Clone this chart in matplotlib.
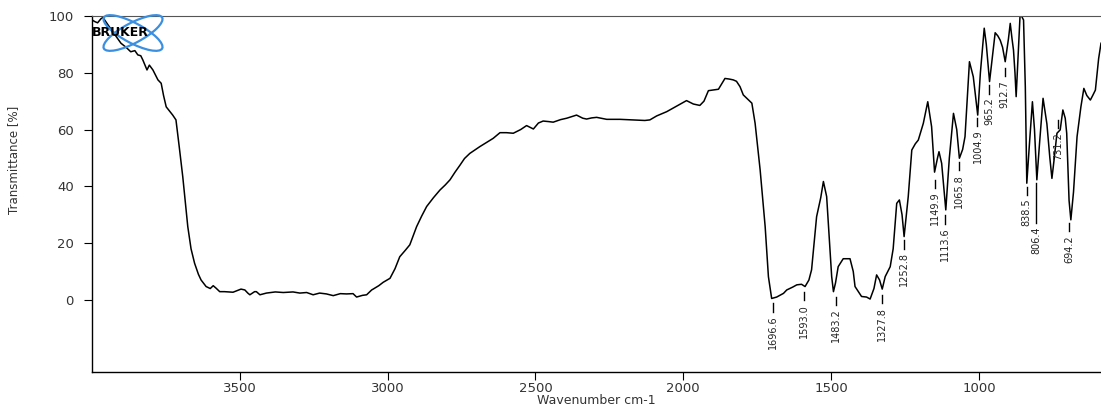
import numpy as np
import matplotlib
matplotlib.use('Agg')
import matplotlib.pyplot as plt
from matplotlib.patches import Ellipse
from matplotlib.transforms import IdentityTransform

# Espectro IR (numero de onda cm-1, transmitancia %)
wn = [4000, 3990, 3981, 3970, 3963, 3950, 3930, 3902, 3885, 3869, 3855, 3845, 3835, 3828,
      3814, 3806, 3794, 3777, 3766, 3758, 3749, 3727, 3716, 3705, 3693, 3676, 3665, 3653,
      3640, 3631, 3614, 3600, 3590, 3580, 3568, 3552, 3523, 3496, 3483, 3473, 3466, 3450,
      3444, 3432, 3410, 3380, 3353, 3320, 3297, 3274, 3252, 3230, 3207, 3184, 3160, 3139,
      3117, 3105, 3085, 3071, 3054, 3049, 3030, 3015, 2992, 2975, 2959, 2940, 2925, 2902,
      2885, 2868, 2845, 2823, 2805, 2789, 2772, 2755, 2740, 2722, 2705, 2688, 2665, 2643,
      2620, 2598, 2575, 2550, 2530, 2507, 2490, 2474, 2455, 2440, 2415, 2394, 2361, 2340,
      2327, 2310, 2293, 2259, 2214, 2169, 2130, 2113, 2090, 2056, 2022, 1989, 1966, 1944,
      1930, 1915, 1895, 1881, 1870, 1859, 1845, 1831, 1820, 1808, 1797, 1785, 1768, 1757,
      1740, 1723, 1712, 1701, 1684, 1661, 1650, 1630, 1616, 1600, 1588, 1575, 1566, 1549,
      1535, 1526, 1515, 1505, 1498, 1492, 1485, 1476, 1459, 1436, 1425, 1419, 1397, 1380,
      1368, 1355, 1346, 1336, 1327, 1317, 1300, 1290, 1278, 1269, 1260, 1253, 1239, 1227,
      1215, 1205, 1188, 1173, 1160, 1150, 1140, 1135, 1126, 1112, 1100, 1086, 1075, 1066,
      1055, 1047, 1032, 1019, 1004, 995, 982, 975, 964, 955, 945, 936, 928, 920, 911, 900,
      894, 888, 883, 878, 874, 868, 861, 856, 849, 843, 838, 829, 819, 812, 804, 795, 783,
      770, 760, 753, 745, 736, 725, 716, 708, 703, 695, 689, 680, 668, 655, 645, 635, 623,
      615, 606, 595, 587]
trans = [98.6, 98.0, 97.6, 99.0, 99.5, 97.5, 94.5, 90.4, 89.0, 87.4, 87.8, 86.3, 86.0, 84.5,
         81.0, 82.7, 81.0, 77.5, 76.3, 72.0, 68.0, 65.1, 63.4, 54.0, 43.4, 25.8, 18.0, 12.9,
         9.0, 7.0, 4.7, 4.0, 5.0, 4.1, 2.9, 2.9, 2.7, 3.8, 3.5, 2.4, 1.8, 2.9,
         2.9, 1.8, 2.4, 2.8, 2.6, 2.8, 2.4, 2.6, 1.8, 2.4, 2.1, 1.5, 2.2, 2.1,
         2.2, 1.0, 1.6, 1.8, 3.5, 3.8, 5.0, 6.2, 7.6, 11.0, 15.2, 17.5, 19.4, 25.8,
         29.5, 32.9, 36.0, 38.7, 40.5, 42.3, 45.0, 47.5, 49.8, 51.6, 52.8, 54.0, 55.5, 56.9,
         58.9, 58.9, 58.7, 60.0, 61.4, 60.2, 62.3, 63.0, 62.8, 62.6, 63.5, 64.0, 65.1, 64.0,
         63.7, 64.1, 64.3, 63.6, 63.6, 63.4, 63.2, 63.4, 64.8, 66.3, 68.3, 70.2, 69.0, 68.5,
         70.0, 73.7, 74.0, 74.2, 76.1, 78.0, 77.8, 77.5, 77.0, 75.1, 72.2, 71.0, 69.3, 62.2,
         45.8, 25.8, 8.2, 0.5, 1.0, 2.3, 3.5, 4.5, 5.3, 5.5, 4.7, 7.0, 10.6, 29.3,
         36.0, 41.7, 36.4, 20.0, 8.2, 2.9, 6.0, 11.7, 14.5, 14.5, 10.0, 4.7, 1.2, 1.0,
         0.3, 4.0, 8.8, 7.0, 3.8, 8.2, 11.7, 18.0, 34.0, 35.2, 30.0, 22.3, 36.4, 52.8,
         55.0, 56.3, 62.2, 69.8, 61.0, 45.0, 50.0, 52.2, 48.1, 31.7, 50.0, 65.7, 60.0, 49.9,
         53.0, 57.5, 83.9, 78.6, 65.1, 80.0, 95.7, 90.0, 76.9, 85.0, 94.1, 93.0, 91.5, 89.0, 83.9, 92.0,
         97.4, 92.0, 88.0, 80.0, 71.6, 85.0, 99.8, 100.0, 98.6, 75.0, 41.1, 55.0, 69.8, 60.0, 42.3, 55.0, 71.0,
         62.0, 50.0, 42.8, 50.0, 58.7, 59.9, 66.9, 64.0, 58.7, 35.0, 28.2, 38.0, 57.5, 68.0, 74.5, 72.0, 70.4,
         72.0, 73.9, 85.0, 90.4]

# Picos marcados (numero de onda, altura superior de la marca)
pico_wn = [1696.6, 1593.0, 1483.2, 1327.8, 1252.8, 1149.9, 1113.6, 1065.8, 1004.9,
           965.2, 912.7, 838.5, 806.4, 731.2, 694.2]
pico_y = [-1.1, 2.8, 1.1, 1.8, 21.1, 42.3, 29.9, 48.6, 64.1,
          75.7, 81.7, 39.8, 41.2, 63.4, 27.1]
pico_largo = [3, 3, 3, 3, 3, 3, 3, 3, 3, 3, 3, 3, 14, 3, 3]

xticks = [3500, 3000, 2500, 2000, 1500, 1000]
yticks = [0, 20, 40, 60, 80, 100]

fuente_estrecha = ['Liberation Sans Narrow', 'DejaVu Sans Condensed', 'DejaVu Sans']

fig = plt.figure(figsize=(11.01, 4.07), dpi=100)
ax = fig.add_axes([92/1101, 35/407, 1 - 92/1101, 356/407])

ax.plot(wn, trans, color='black', lw=1.1)

for x, y, l in zip(pico_wn, pico_y, pico_largo):
    ax.plot([x, x], [y, y - l], color='black', lw=1.0)
    ax.text(x, y - l - 1.2, '%.1f' % x, rotation=90, ha='center', va='top',
            fontsize=7, family=fuente_estrecha, color='#222222')

ax.set_xlim(4000, 587)
ax.set_ylim(-25.4, 100)
ax.set_xticks(xticks)
ax.set_yticks(yticks)
ax.tick_params(labelsize=9.5, labelcolor='#333333', length=6, width=0.8)
ax.tick_params(axis='x', pad=1)
ax.tick_params(axis='y', pad=7)
ax.spines['right'].set_visible(False)
ax.spines['top'].set_color('#555555')
for s in ['left', 'bottom']:
    ax.spines[s].set_linewidth(1.0)

ax.set_xlabel('Wavenumber cm-1', fontsize=9, color='#333333')
ax.xaxis.set_label_coords(0.5, -0.063)
ax.set_ylabel('Transmittance [%]', fontsize=8.5, family=fuente_estrecha, color='#333333')
ax.yaxis.set_label_coords(-0.071, 0.596)

# Logo BRUKER (atomo azul)
for ang in [28, -28]:
    e = Ellipse((133, 407 - 33), 66, 20, angle=ang, transform=IdentityTransform(),
                fill=False, edgecolor='#3b8fe0', lw=1.6)
    fig.add_artist(e)
fig.text(92/1101, 1 - 33/407, 'BRUKER', fontsize=9, fontweight='bold', color='black',
         va='center', ha='left')

fig.savefig('out.png', dpi=100)
